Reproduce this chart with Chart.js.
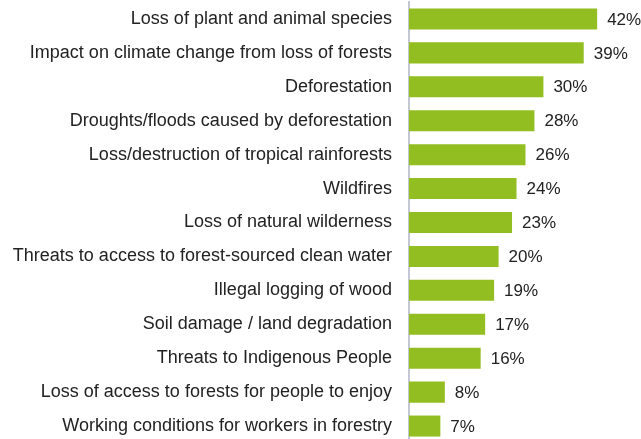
<!DOCTYPE html>
<html lang="en">
<head>
    <meta charset="UTF-8">
    <title>Forest concerns</title>
    <script src="https://cdn.jsdelivr.net/npm/chart.js"></script>
    <style>
        html, body {
            margin: 0;
            padding: 0;
            background: #fff;
            overflow: hidden;
        }
        .chart-wrapper {
            position: relative;
            width: 641px;
            height: 444px;
        }
    </style>
</head>
<body>
    <div class="chart-wrapper">
        <canvas id="concernChart"></canvas>
    </div>

    <script>
        // chart data
        const categories = [
            'Loss of plant and animal species',
            'Impact on climate change from loss of forests',
            'Deforestation',
            'Droughts/floods caused by deforestation',
            'Loss/destruction of tropical rainforests',
            'Wildfires',
            'Loss of natural wilderness',
            'Threats to access to forest-sourced clean water',
            'Illegal logging of wood',
            'Soil damage / land degradation',
            'Threats to Indigenous People',
            'Loss of access to forests for people to enjoy',
            'Working conditions for workers in forestry'
        ];
        const percentages = [42, 39, 30, 28, 26, 24, 23, 20, 19, 17, 16, 8, 7];

        const fontFamily = '"Liberation Sans", Arial, sans-serif';

        // draw "42%" style labels at the end of each bar
        const valueLabels = {
            id: 'valueLabels',
            afterDatasetsDraw(chart) {
                const ctx = chart.ctx;
                const meta = chart.getDatasetMeta(0);
                ctx.save();
                ctx.font = '17px ' + fontFamily;
                ctx.fillStyle = '#222';
                ctx.textAlign = 'left';
                ctx.textBaseline = 'middle';
                meta.data.forEach((bar, i) => {
                    ctx.fillText(percentages[i] + '%', bar.x + 10, bar.y + 1);
                });
                ctx.restore();
            }
        };

        window.onload = function() {
            new Chart(document.getElementById('concernChart'), {
                type: 'bar',
                data: {
                    labels: categories,
                    datasets: [{
                        data: percentages,
                        backgroundColor: '#93be22',
                        borderWidth: 0,
                        barPercentage: 0.62,
                        categoryPercentage: 1.0
                    }]
                },
                options: {
                    indexAxis: 'y',
                    responsive: true,
                    maintainAspectRatio: false,
                    animation: false,
                    layout: {
                        padding: { top: 2, right: 8, bottom: 1, left: 0 }
                    },
                    plugins: {
                        legend: { display: false },
                        tooltip: { enabled: false }
                    },
                    scales: {
                        x: {
                            display: false,
                            min: 0,
                            max: 50
                        },
                        y: {
                            afterFit: scale => {
                                scale.width = 409;
                                // labels sit inside their rows, no extra room needed
                                scale.paddingTop = 0;
                                scale.paddingBottom = 0;
                            },
                            grid: { display: false, drawTicks: false },
                            border: { display: true, color: '#c3c7d3', width: 2 },
                            ticks: {
                                padding: 17,
                                color: '#222',
                                font: { family: fontFamily, size: 18 }
                            }
                        }
                    }
                },
                plugins: [valueLabels]
            });
        };
    </script>
</body>
</html>
